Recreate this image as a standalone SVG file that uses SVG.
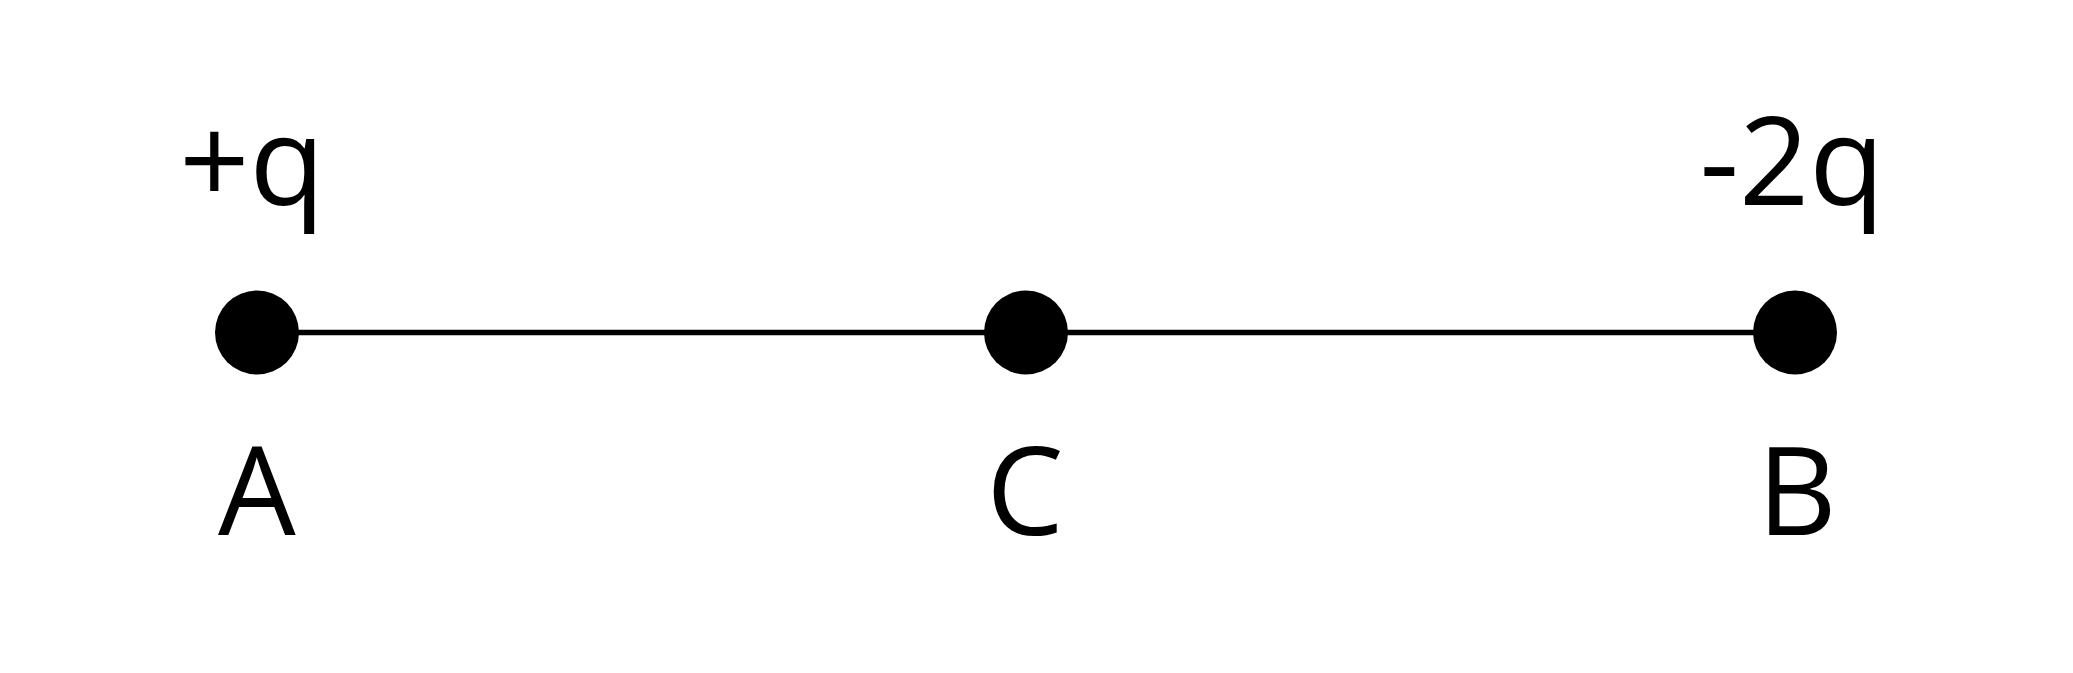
<svg xmlns="http://www.w3.org/2000/svg" width="2073" height="673" viewBox="0 0 2073 673">
<style>
.lbl{font-family:"Open Sans","Noto Sans","Liberation Sans",sans-serif;font-weight:380;font-size:123px;fill:#000;text-anchor:middle}
.pt{fill:#000}
.ln{stroke:#000;stroke-width:5.5;fill:none}
</style>
<rect width="2073" height="673" fill="#fff"/>
<g id="connectors">
<line class="ln" x1="257" y1="332.5" x2="1795" y2="332.5"/>
</g>
<g id="nodeA">
<circle class="pt" cx="257" cy="332.5" r="42"/>
<text class="lbl" x="257" y="535">A</text>
<text class="lbl" x="252" y="205">+q</text>
</g>
<g id="nodeC">
<circle class="pt" cx="1026" cy="332.5" r="42"/>
<text class="lbl" x="1025" y="535">C</text>
</g>
<g id="nodeB">
<circle class="pt" cx="1795" cy="332.5" r="42"/>
<text class="lbl" x="1797" y="535">B</text>
<text class="lbl" x="1792" y="205">-2q</text>
</g>
</svg>
